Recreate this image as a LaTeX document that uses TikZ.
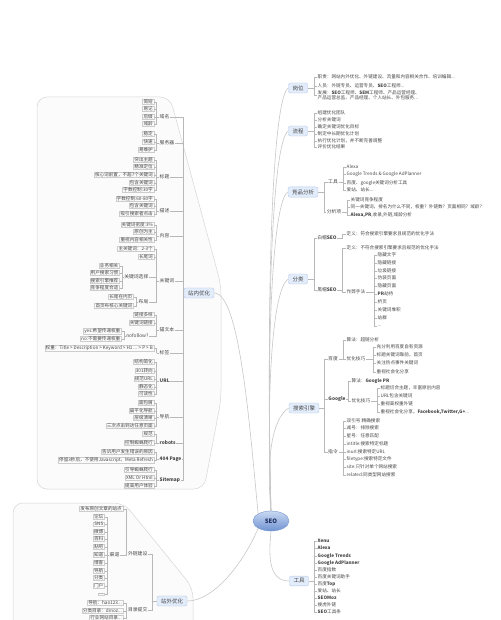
\documentclass[tikz,border=0pt]{standalone}
\usepackage{fontspec}
\setmainfont{Noto Sans CJK SC}
\usetikzlibrary{shapes.geometric}
\definecolor{topicfill}{RGB}{226,236,250}
\definecolor{topicline}{RGB}{180,200,232}
\definecolor{seotop}{RGB}{200,216,242}
\definecolor{seobot}{RGB}{112,146,210}
\definecolor{seoline}{RGB}{120,150,205}
\definecolor{seotext}{RGB}{30,45,95}
\definecolor{inktext}{RGB}{70,70,70}
\definecolor{boxline}{RGB}{205,205,205}

\begin{document}
\begin{tikzpicture}[x=1pt,y=-1pt,
  seo/.style={ellipse,draw=seoline,top color=seotop,bottom color=seobot,text=seotext,
    minimum width=36pt,minimum height=20pt,inner sep=0pt,font=\fontsize{6}{7}\selectfont\bfseries},
  topic/.style={draw=topicline,fill=topicfill,rounded corners=2pt,text=inktext,
    font=\fontsize{5.5}{6}\selectfont,inner xsep=4pt,inner ysep=2.5pt},
  leaf/.style={anchor=west,inner sep=0.5pt,text=inktext,font=\fontsize{4.6}{5.5}\selectfont},
  lbox/.style={anchor=east,draw=boxline,inner xsep=1pt,inner ysep=0.5pt,text=inktext,
    font=\fontsize{4.6}{5.5}\selectfont},
  sub/.style={inner sep=0.5pt,text=inktext,font=\fontsize{4.8}{5.5}\selectfont},
  link/.style={draw=black!28,line width=0.35pt},
  branch/.style={draw=black!22,line width=0.6pt},
  zone/.style={draw=black!16,fill=black!1.5,rounded corners=10pt,line width=0.5pt}]

\useasboundingbox (0,0) rectangle (500,620);

% zones
\draw[zone] (37,97) -- (170,97) -- (221,285) -- (221,400) -- (204,489) -- (37,489) -- cycle;
\draw[zone] (13,503) -- (124,503) -- (193,588) -- (193,650) -- (13,650) -- cycle;

% main topics
\node[seo] (seo) at (271,521) {SEO};
\node[topic] (gangwei) at (298,88) {岗位};
\node[topic] (liucheng) at (298,131) {流程};
\node[topic] (jingpin) at (303,192) {竞品分析};
\node[topic] (fenlei) at (298,279) {分类};
\node[topic] (sousuo) at (304,408) {搜索引擎};
\node[topic] (gongju) at (299,581) {工具};
\node[topic] (zhannei) at (199,293) {站内优化};
\node[topic] (zhanwai) at (172,601) {站外优化};

% branches
\foreach \n/\y in {gangwei/88,liucheng/131,jingpin/192,fenlei/279,sousuo/408}
  \draw[branch] (seo.north) .. controls (266,{(511+\y)/2}) and (272,\y+10) .. (\n.west);
\draw[branch] (seo.north west) .. controls (250,430) and (240,293) .. (zhannei.east);
\draw[branch] (seo.south west) .. controls (245,560) and (215,601) .. (zhanwai.east);
\draw[branch] (seo.south) .. controls (268,560) and (270,581) .. (gongju.west);

% ---- 岗位
\coordinate (gwbar) at (314,88);
\draw[link] (gangwei.east) -- (gwbar);
\foreach \y/\t [count=\i] in {77/{职责：网站内外优化、外链建设、流量和内容相关合作、培训编辑...},
    86/{人员：外链专员、运营专员、\textbf{SEO}工程师...}} {
  \node[leaf] (gw\i) at (317,\y) {\t};
  \draw[link] (gwbar) |- (gw\i.west);
}
\node[leaf,align=left] (gw3) at (317,95.5)
  {发展：\textbf{SEO}工程师、\textbf{SEM}工程师、产品运营经理、\\产品运营总监、产品经理、个人站长、外包服务...};
\draw[link] (gwbar) |- (gw3.west);

% ---- 流程
\coordinate (lcbar) at (314,131);
\draw[link] (liucheng.east) -- (lcbar);
\foreach \y/\t [count=\i] in {113/组建优化团队,120/分析关键词,127/确定关键词优化目标,
    134/制定中长期优化计划,141/执行优化计划，并不断完善调整,147/评价优化结果} {
  \node[leaf] (lc\i) at (317,\y) {\t};
  \draw[link] (lcbar) |- (lc\i.west);
}

% ---- 竞品分析
\coordinate (jpbar) at (324,192);
\draw[link] (jingpin.east) -- (jpbar);
\node[sub] (jpgj) at (333,182) {工具};
\node[sub] (jpfx) at (334,212) {分析项};
\draw[link] (jpbar) |- (jpgj.west);
\draw[link] (jpbar) |- (jpfx.west);
\coordinate (gjbar) at (343,182);
\draw[link] (jpgj.east) -- (gjbar);
\foreach \y/\t [count=\i] in {167/Alexa,174/{Google Trends \& Google AdPlanner},
    183/{百度、google关键词分析工具},190/{爱站、站长...}} {
  \node[leaf] (gj\i) at (346,\y) {\t};
  \draw[link] (gjbar) |- (gj\i.west);
}
\coordinate (fxbar) at (347,212);
\draw[link] (jpfx.east) -- (fxbar);
\foreach \y/\t [count=\i] in {200/关键词竞争程度,
    207/同一关键词，排名为什么不同，权重？外链数？页面相同？域龄？,
    215/{\textbf{Alexa,PR},收录,外链,域龄分析}} {
  \node[leaf] (fx\i) at (350,\y) {\t};
  \draw[link] (fxbar) |- (fx\i.west);
}

% ---- 分类
\coordinate (flbar) at (314,279);
\draw[link] (fenlei.east) -- (flbar);
\node[sub] (baimao) at (327,238) {白帽\textbf{SEO}};
\node[sub] (heimao) at (327,290) {黑帽\textbf{SEO}};
\draw[link] (flbar) |- (baimao.west);
\draw[link] (flbar) |- (heimao.west);
\coordinate (bmbar) at (342,238);
\node[leaf] (bm1) at (346,234) {定义：符合搜索引擎要求且规范的优化手法};
\draw[link] (baimao.east) -- (bmbar) |- (bm1.west);
\coordinate (hmbar) at (342,290);
\draw[link] (heimao.east) -- (hmbar);
\node[leaf] (hm1) at (346,248) {定义：不符合搜索引擎要求且规范的优化手法};
\node[leaf] (zuobi) at (346,292) {作弊手法};
\draw[link] (hmbar) |- (hm1.west);
\draw[link] (hmbar) |- (zuobi.west);
\coordinate (zbbar) at (374,292);
\draw[link] (zuobi.east) -- (zbbar);
\foreach \y/\t [count=\i] in {255/隐藏文字,263/隐藏链接,271/垃圾链接,278/伪装页面,286/隐藏页面,
    294/{\textbf{PR}劫持},302/桥页,310/关键词堆积,318/站群,326/{...}} {
  \node[leaf] (zb\i) at (377,\y) {\t};
  \draw[link] (zbbar) |- (zb\i.west);
}

% ---- 搜索引擎
\coordinate (ssbar) at (324,408);
\draw[link] (sousuo.east) -- (ssbar);
\node[sub] (baidu) at (333,359) {百度};
\node[sub] (google) at (337,399) {\textbf{Google}};
\node[sub] (zhiling) at (333,452) {指令};
\foreach \n in {baidu,google,zhiling}
  \draw[link] (ssbar) |- (\n.west);
\coordinate (bdbar) at (343,359);
\draw[link] (baidu.east) -- (bdbar);
\node[leaf] (bd1) at (346,340) {算法：超链分析};
\node[leaf] (bdjq) at (346,359) {优化技巧};
\draw[link] (bdbar) |- (bd1.west);
\draw[link] (bdbar) |- (bdjq.west);
\coordinate (bjbar) at (373,359);
\draw[link] (bdjq.east) -- (bjbar);
\foreach \y/\t [count=\i] in {347/充分利用百度自有资源,355/标题关键词靠前，首页,
    363/关注热点事件关键词,372/重视社会化分享} {
  \node[leaf] (bj\i) at (376,\y) {\t};
  \draw[link] (bjbar) |- (bj\i.west);
}
\coordinate (ggbar) at (348,399);
\draw[link] (google.east) -- (ggbar);
\node[leaf] (gg1) at (351,381) {算法：\textbf{Google PR}};
\node[leaf] (ggjq) at (351,401) {优化技巧};
\draw[link] (ggbar) |- (gg1.west);
\draw[link] (ggbar) |- (ggjq.west);
\coordinate (gjqbar) at (377,401);
\draw[link] (ggjq.east) -- (gjqbar);
\foreach \y/\t [count=\i] in {388/标题切合主题，丰富原创内容,396/{URL包含关键词},
    404/重视高权重外链,412/{重视社会化分享，\textbf{Facebook,Twitter,G+}...}} {
  \node[leaf] (gq\i) at (380,\y) {\t};
  \draw[link] (gjqbar) |- (gq\i.west);
}
\coordinate (zlbar) at (343,452);
\draw[link] (zhiling.east) -- (zlbar);
\foreach \y/\t [count=\i] in {421/双引号:精确搜索,428/减号：排除搜索,436/星号：任意匹配,
    444/{intitle:搜索特定标题},452/{inurl:搜索特定URL},459/{filetype:搜索特定文件},
    467/{site:只针对单个网站搜索},475/{related:同类型网站搜索}} {
  \node[leaf] (zl\i) at (346,\y) {\t};
  \draw[link] (zlbar) |- (zl\i.west);
}

% ---- 工具
\coordinate (tlbar) at (314,581);
\draw[link] (gongju.east) -- (tlbar);
\foreach \y/\t [count=\i] in {541/\textbf{Xenu},548/\textbf{Alexa},556/\textbf{Google Trends},
    563/\textbf{Google AdPlanner},570/百度指数,577/百度关键词助手,584/{百度\textbf{Top}},
    591/爱站、站长,598/\textbf{SEOMoz},605/搜虎外链,612/{\textbf{SEO}工具条}} {
  \node[leaf] (tl\i) at (317,\y) {\t};
  \draw[link] (tlbar) |- (tl\i.west);
}

% ---- 站内优化
\coordinate (znbar) at (183,293);
\draw[link] (zhannei.west) -- (znbar);
\foreach \n/\y/\t in {yuming/117/域名,fuwuqi/143/服务器,biaoti/177/标题,miaoshu/211/描述,
    neirong/236/内容,guanjian/281/关键词,maowen/330/锚文本,biaoqian/353/标签,
    url/381/\textbf{URL},daohang/417/导航,robots/443/\textbf{robots},
    page404/459/\textbf{404 Page},sitemap/480/\textbf{Sitemap}} {
  \node[sub,anchor=west] (\n) at (159,\y) {\t};
  \draw[link] (znbar) |- (\n.east);
}
% category children
\foreach \n/\list in {yuming/{102/简短,109/易记,117/后缀,124/域龄},
    fuwuqi/{134/稳定,142/快速,150/易维护},
    biaoti/{160/突出主题,167/精准定位,175/核心词前置，不超7个关键词,183/包含关键词,190/字数控制:30字},
    miaoshu/{199/字数控制:60-80字,206/包含关键词,214/吸引搜索者点击},
    neirong/{225/关键词密度:3\%,232/原创为主,240/重视内容相关性},
    maowen/{315/链接多样,323/关键词链接},
    biaoqian/{348/{权重：Title > Description > Keyword > H1 ... > P > B}},
    url/{362/结构简化,371/301转向,379/规范URL,387/静态化,394/可读性},
    daohang/{403/面包屑,411/扁平化导航,418/层级清晰,426/三次点击到达任意页面},
    robots/{434/规范,443/控制蜘蛛爬行},
    page404/{452/告诉用户发生错误的原因,460/{停留3秒后，不使用Javascript、Meta Refresh}},
    sitemap/{470/引导蜘蛛爬行,478/XML Or Html,486/提高用户体验}} {
  \coordinate (\n bar) at (156.5,0 |- \n.west);
  \draw[link] (\n.west) -- (\n bar);
  \foreach \y/\t [count=\i] in \list {
    \node[lbox] (\n\i) at (154,\y) {\t};
    \draw[link] (\n bar) |- (\n\i.east);
  }
}
% 关键词
\coordinate (kwbar) at (156.5,281);
\draw[link] (guanjian.west) -- (kwbar);
\foreach \y/\t [count=\i] in {249/主关键词：2-3个,257/长尾词} {
  \node[lbox] (kw\i) at (154,\y) {\t};
  \draw[link] (kwbar) |- (kw\i.east);
}
\node[sub,anchor=east] (kwxz) at (149,277) {关键词选择};
\node[sub,anchor=east] (buju) at (149,302) {布局};
\draw[link] (kwbar) |- (kwxz.east);
\draw[link] (kwbar) |- (buju.east);
\coordinate (xzbar) at (122,277);
\draw[link] (kwxz.west) -- (xzbar);
\foreach \y/\t [count=\i] in {266/业务相关,273/用户搜索习惯,281/搜索引擎推荐,288/竞争程度合适} {
  \node[lbox] (xz\i) at (119.5,\y) {\t};
  \draw[link] (xzbar) |- (xz\i.east);
}
\coordinate (bjubar) at (136,302);
\draw[link] (buju.west) -- (bjubar);
\foreach \y/\t [count=\i] in {297/长尾在内页,306/首页布核心关键词} {
  \node[lbox] (bju\i) at (133.5,\y) {\t};
  \draw[link] (bjubar) |- (bju\i.east);
}
% nofollow
\node[sub,anchor=east] (nofollow) at (149,336) {nofollow?};
\draw[link] (maowenbar) |- (nofollow.east);
\coordinate (nfbar) at (124,336);
\draw[link] (nofollow.west) -- (nfbar);
\foreach \y/\t [count=\i] in {331/{yes:希望传递权重},339/{no:不需要传递权重}} {
  \node[lbox] (nf\i) at (121.5,\y) {\t};
  \draw[link] (nfbar) |- (nf\i.east);
}

% ---- 站外优化
\coordinate (zwbar) at (152,601);
\draw[link] (zhanwai.west) -- (zwbar);
\node[sub,anchor=east] (wailian) at (148,554) {外链建设};
\node[sub,anchor=east] (mulu) at (148,610) {目录提交};
\draw[link] (zwbar) |- (wailian.east);
\draw[link] (zwbar) |- (mulu.east);
\coordinate (wlbar) at (126,554);
\draw[link] (wailian.west) -- (wlbar);
\node[lbox] (wl1) at (123,509) {发布原创文章的站点};
\draw[link] (wlbar) |- (wl1.east);
\node[sub,anchor=east] (qudao) at (120,555) {渠道};
\draw[link] (wlbar) |- (qudao.east);
\coordinate (qdbar) at (107,555);
\draw[link] (qudao.west) -- (qdbar);
\foreach \y/\t [count=\i] in {517/论坛,524/SNS,532/微博,539/百科,547/贴吧,555/知道,
    563/博客,571/导航,578/分类,586/门户,594/{...}} {
  \node[lbox] (qd\i) at (104.5,\y) {\t};
  \draw[link] (qdbar) |- (qd\i.east);
}
\coordinate (mlbar) at (126,610);
\draw[link] (mulu.west) -- (mlbar);
\foreach \y/\t [count=\i] in {603/{导航：hao123...},611/{分类目录：dmoz...},618/{行业网站目录...}} {
  \node[lbox] (ml\i) at (123,\y) {\t};
  \draw[link] (mlbar) |- (ml\i.east);
}
\end{tikzpicture}
\end{document}
